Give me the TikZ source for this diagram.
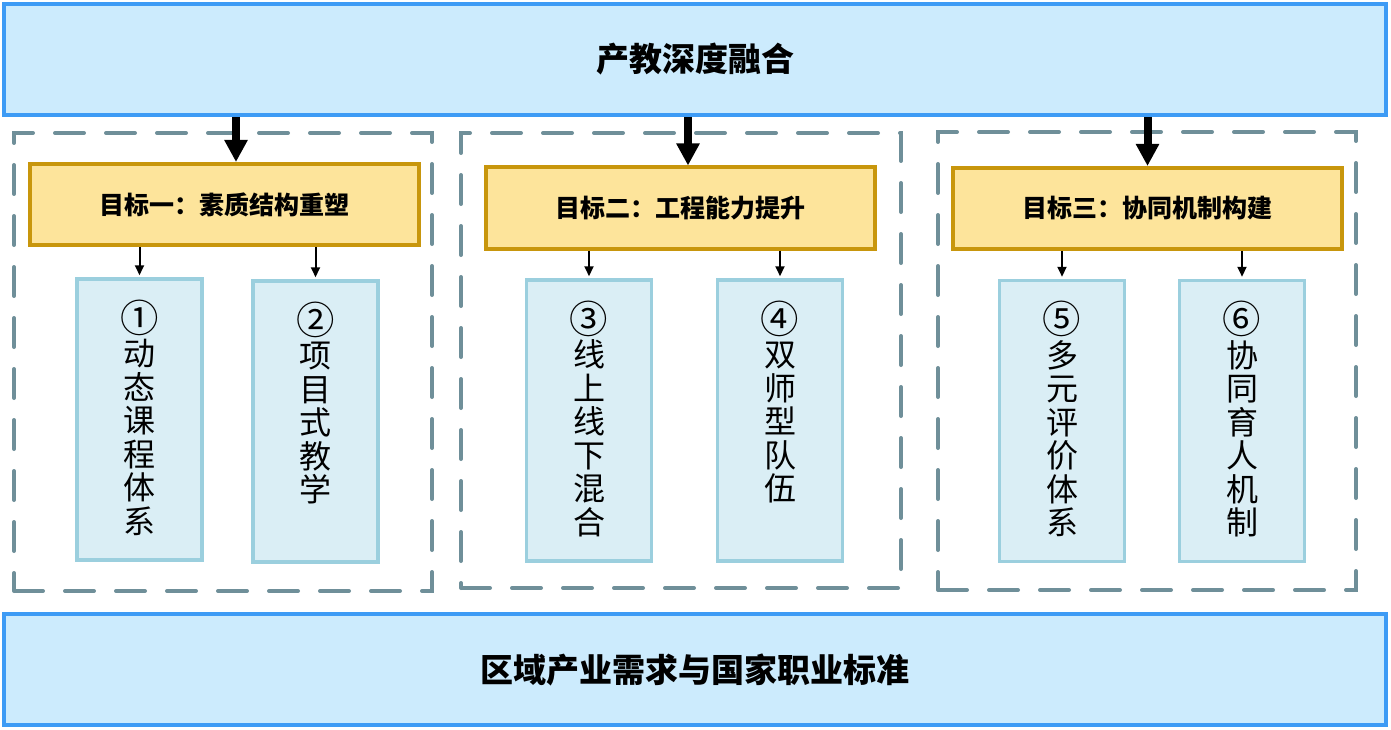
\documentclass[tikz,border=0pt]{standalone}
\usepackage{fontspec}
\newfontfamily\cjk{Noto Sans CJK SC}
\usetikzlibrary{arrows.meta}

\definecolor{barfill}{HTML}{CCEBFD}
\definecolor{barline}{HTML}{3D9BF5}
\definecolor{goalfill}{HTML}{FDE49B}
\definecolor{goalline}{HTML}{C8960C}
\definecolor{itemfill}{HTML}{DAEEF5}
\definecolor{itemline}{HTML}{9BCFDE}
\definecolor{dashgray}{HTML}{6F8F99}

\tikzset{
  bar/.style={draw=barline, fill=barfill, line width=4pt, inner sep=0pt,
    minimum width=1382pt, minimum height=111pt,
    font=\cjk\bfseries\fontsize{33}{40}\selectfont},
  goal/.style={draw=goalline, fill=goalfill, line width=4pt, inner sep=0pt,
    minimum width=389pt, minimum height=81pt,
    font=\cjk\bfseries\fontsize{25}{30}\selectfont},
  item/.style={draw=itemline, fill=itemfill, line width=3.5pt, inner sep=0pt,
    minimum width=125pt, minimum height=281pt,
    font=\cjk\fontsize{32}{33.5}\selectfont},
  group/.style={draw=dashgray, line width=4pt, dash pattern=on 29pt off 22pt,
    line cap=round, inner sep=0pt},
  bigarrow/.style={line width=8pt, -{Triangle[width=22pt,length=22pt]}},
  smallarrow/.style={line width=2pt, -{Triangle[width=9pt,length=10pt]}},
}

% vertical text, top aligned in the item box
\newcommand{\vcol}[1]{\parbox[c][281pt][t]{60pt}{\centering\vspace*{21pt}#1}}
\newcommand{\num}[1]{\scalebox{1.2}{#1}}

\begin{document}
\begin{tikzpicture}[x=1pt,y=-1pt]
  \useasboundingbox (0,0) rectangle (1391,730);

  % Top and bottom bars
  \node[bar] (top) at (695,59.5) {产教深度融合};
  \node[bar] (base) at (695,669.5) {区域产业需求与国家职业标准};

  % Dashed groups
  \node[group, minimum width=418pt, minimum height=458pt] (grp1) at (223,362) {};
  \node[group, minimum width=440pt, minimum height=455pt] (grp2) at (681,360.5) {};
  \node[group, minimum width=418pt, minimum height=458pt] (grp3) at (1147,361) {};

  % Goals
  \node[goal] (g1) at (224.5,204.5) {目标一：素质结构重塑};
  \node[goal] (g2) at (680.5,208) {目标二：工程能力提升};
  \node[goal] (g3) at (1147.5,208.5) {目标三：协同机制构建};

  % Measures
  \node[item] (m1) at (139.5,419.5) {\vcol{\num{①}\\动\\态\\课\\程\\体\\系}};
  \node[item] (m2) at (315.5,421.5) {\vcol{\num{②}\\项\\目\\式\\教\\学}};
  \node[item] (m3) at (589,420.5) {\vcol{\num{③}\\线\\上\\线\\下\\混\\合}};
  \node[item] (m4) at (780,420.5) {\vcol{\num{④}\\双\\师\\型\\队\\伍}};
  \node[item] (m5) at (1062,421) {\vcol{\num{⑤}\\多\\元\\评\\价\\体\\系}};
  \node[item] (m6) at (1242,421) {\vcol{\num{⑥}\\协\\同\\育\\人\\机\\制}};

  % Arrows from the top bar
  \coordinate (a1) at ([xshift=11.5pt]g1.north);
  \coordinate (a2) at ([xshift=7.5pt]g2.north);
  \coordinate (a3) at (g3.north);
  \foreach \a in {a1,a2,a3} {
    \draw[bigarrow] (top.south -| \a) -- (\a);
  }

  % Arrows from goals to measures
  \foreach \g/\m in {g1/m1, g1/m2, g2/m3, g2/m4, g3/m5, g3/m6} {
    \draw[smallarrow] (\g.south -| \m.north) -- ([yshift=2pt]\m.north);
  }
\end{tikzpicture}
\end{document}
